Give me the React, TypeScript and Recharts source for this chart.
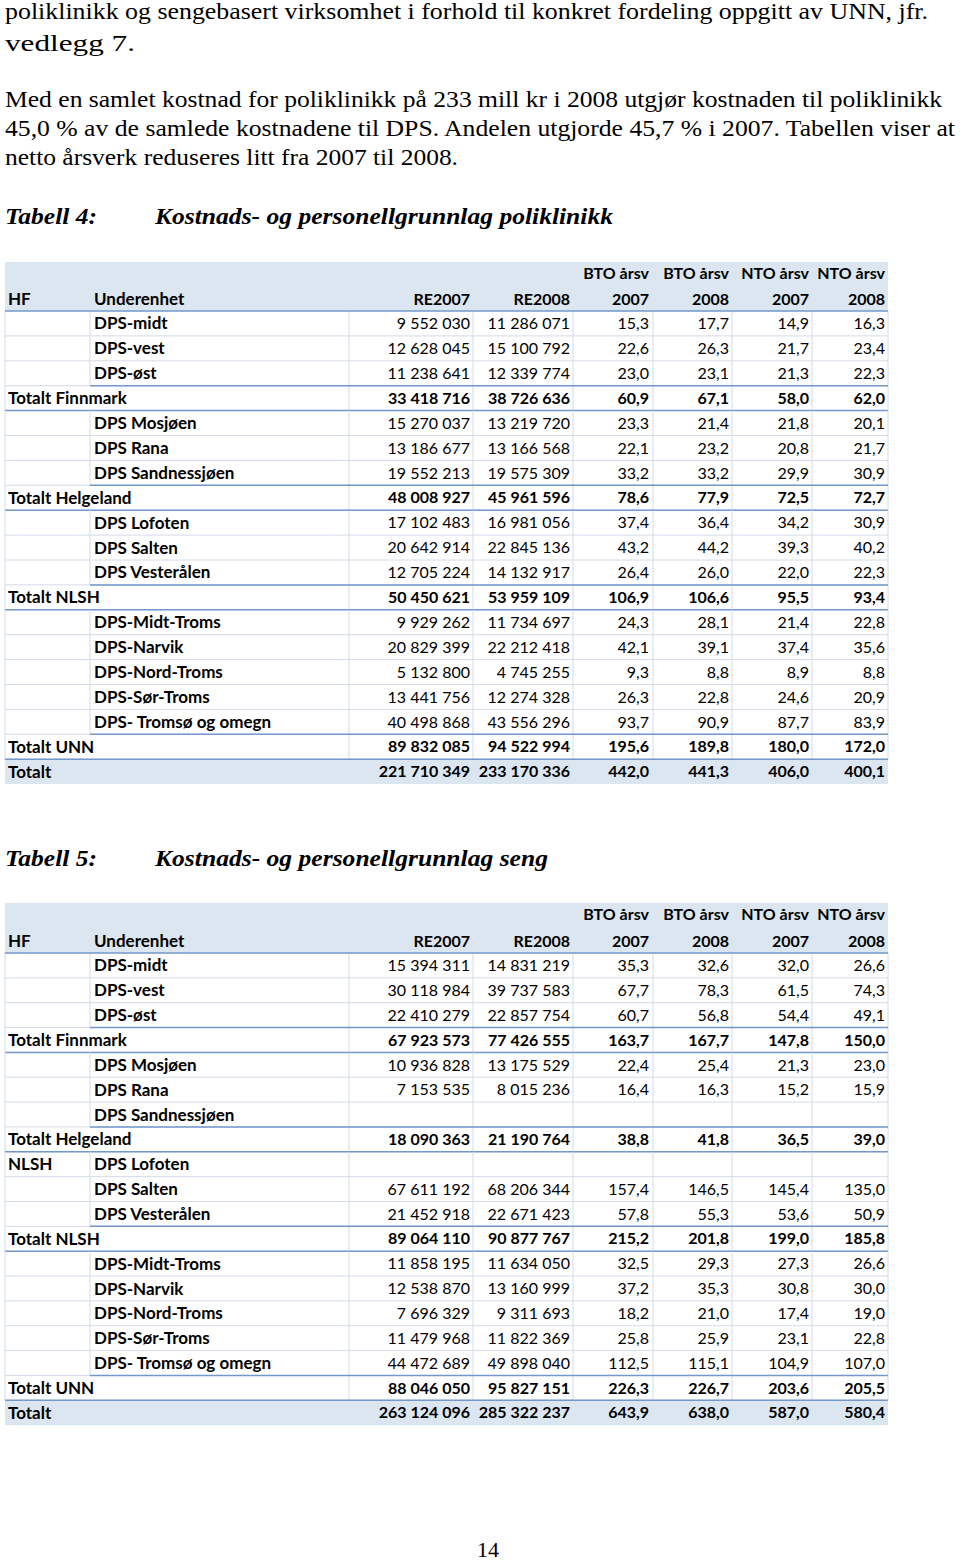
import React from "react";
import { Surface, Layer, Rectangle, Text } from "recharts";

// page text
const paragraphLines = [
  "poliklinikk og sengebasert virksomhet i forhold til konkret fordeling oppgitt av UNN, jfr.",
  "vedlegg 7.",
  "Med en samlet kostnad for poliklinikk på 233 mill kr i 2008 utgjør kostnaden til poliklinikk",
  "45,0 % av de samlede kostnadene til DPS. Andelen utgjorde 45,7 % i 2007. Tabellen viser at",
  "netto årsverk reduseres litt fra 2007 til 2008.",
];
const headerTop = ["", "", "", "", "BTO årsv", "BTO årsv", "NTO årsv", "NTO årsv"];
const headerBottom = ["HF", "Underenhet", "RE2007", "RE2008", "2007", "2008", "2007", "2008"];

// Tabell 4 - poliklinikk
const units4 = [
  "DPS-midt", "DPS-vest", "DPS-øst", "Totalt Finnmark",
  "DPS Mosjøen", "DPS Rana", "DPS Sandnessjøen", "Totalt Helgeland",
  "DPS Lofoten", "DPS Salten", "DPS Vesterålen", "Totalt NLSH",
  "DPS-Midt-Troms", "DPS-Narvik", "DPS-Nord-Troms", "DPS-Sør-Troms", "DPS- Tromsø og omegn",
  "Totalt UNN", "Totalt",
];
const hf4 = ["", "", "", "", "", "", "", "", "", "", "", "", "", "", "", "", "", "", ""];
const re2007_4 = [9552030, 12628045, 11238641, 33418716, 15270037, 13186677, 19552213, 48008927, 17102483, 20642914, 12705224, 50450621, 9929262, 20829399, 5132800, 13441756, 40498868, 89832085, 221710349];
const re2008_4 = [11286071, 15100792, 12339774, 38726636, 13219720, 13166568, 19575309, 45961596, 16981056, 22845136, 14132917, 53959109, 11734697, 22212418, 4745255, 12274328, 43556296, 94522994, 233170336];
const bto2007_4 = [15.3, 22.6, 23.0, 60.9, 23.3, 22.1, 33.2, 78.6, 37.4, 43.2, 26.4, 106.9, 24.3, 42.1, 9.3, 26.3, 93.7, 195.6, 442.0];
const bto2008_4 = [17.7, 26.3, 23.1, 67.1, 21.4, 23.2, 33.2, 77.9, 36.4, 44.2, 26.0, 106.6, 28.1, 39.1, 8.8, 22.8, 90.9, 189.8, 441.3];
const nto2007_4 = [14.9, 21.7, 21.3, 58.0, 21.8, 20.8, 29.9, 72.5, 34.2, 39.3, 22.0, 95.5, 21.4, 37.4, 8.9, 24.6, 87.7, 180.0, 406.0];
const nto2008_4 = [16.3, 23.4, 22.3, 62.0, 20.1, 21.7, 30.9, 72.7, 30.9, 40.2, 22.3, 93.4, 22.8, 35.6, 8.8, 20.9, 83.9, 172.0, 400.1];

// Tabell 5 - seng
const units5 = units4;
const hf5 = ["", "", "", "", "", "", "", "", "NLSH", "", "", "", "", "", "", "", "", "", ""];
const re2007_5 = [15394311, 30118984, 22410279, 67923573, 10936828, 7153535, null, 18090363, null, 67611192, 21452918, 89064110, 11858195, 12538870, 7696329, 11479968, 44472689, 88046050, 263124096];
const re2008_5 = [14831219, 39737583, 22857754, 77426555, 13175529, 8015236, null, 21190764, null, 68206344, 22671423, 90877767, 11634050, 13160999, 9311693, 11822369, 49898040, 95827151, 285322237];
const bto2007_5 = [35.3, 67.7, 60.7, 163.7, 22.4, 16.4, null, 38.8, null, 157.4, 57.8, 215.2, 32.5, 37.2, 18.2, 25.8, 112.5, 226.3, 643.9];
const bto2008_5 = [32.6, 78.3, 56.8, 167.7, 25.4, 16.3, null, 41.8, null, 146.5, 55.3, 201.8, 29.3, 35.3, 21.0, 25.9, 115.1, 226.7, 638.0];
const nto2007_5 = [32.0, 61.5, 54.4, 147.8, 21.3, 15.2, null, 36.5, null, 145.4, 53.6, 199.0, 27.3, 30.8, 17.4, 23.1, 104.9, 203.6, 587.0];
const nto2008_5 = [26.6, 74.3, 49.1, 150.0, 23.0, 15.9, null, 39.0, null, 135.0, 50.9, 185.8, 26.6, 30.0, 19.0, 22.8, 107.0, 205.5, 580.4];

const serif = "Liberation Serif";
const sans = "Lato";
const colX = [5, 90, 349, 473, 573, 653, 732, 812, 888];
const textRight = [470, 570, 649, 729, 809, 885];
const headBg = "#dce6f1";
const lightLine = "#d3dbe8";
const darkLine = "#7398c9";

const fmtInt = (v: number | null) =>
  v == null ? "" : Math.round(v).toString().replace(/\B(?=(\d{3})+(?!\d))/g, " ");
const fmtDec = (v: number | null) => (v == null ? "" : v.toFixed(1).replace(".", ","));

type TableProps = {
  top: number;
  bottom: number;
  rowH: number;
  units: string[];
  hf: string[];
  cols: (number | null)[][];
};

function Table({ top, bottom, rowH, units, hf, cols }: TableProps) {
  const left = colX[0];
  const right = colX[colX.length - 1];
  const n = units.length;
  const kind = (u: string) => (u === "Totalt" ? "grand" : u.startsWith("Totalt") ? "total" : "unit");
  const lines: React.ReactNode[] = [];
  const cells: React.ReactNode[] = [];

  units.forEach((u, i) => {
    const y0 = bottom + i * rowH;
    const y1 = y0 + rowH;
    const k = kind(u);
    if (k !== "grand") {
      colX.forEach((x, ci) => {
        if (ci === 1 && k !== "unit") return;
        lines.push(<line key={`v${i}-${ci}`} x1={x} x2={x} y1={y0} y2={y1} stroke={lightLine} strokeWidth={1} />);
      });
      lines.push(<line key={`h${i}`} x1={left} x2={right} y1={y1} y2={y1} stroke={lightLine} strokeWidth={1} />);
    }
    if (k !== "unit") {
      lines.push(<line key={`da${i}`} x1={k === "grand" ? left : colX[1]} x2={right} y1={y0} y2={y0} stroke={darkLine} strokeWidth={1.5} />);
      if (k === "total" && i < n - 2) {
        lines.push(<line key={`db${i}`} x1={left} x2={right} y1={y1} y2={y1} stroke={darkLine} strokeWidth={1.5} />);
      }
    }
    const cy = y0 + rowH / 2;
    const bold = k !== "unit";
    if (k === "unit") {
      if (hf[i]) {
        cells.push(<Text key={`hf${i}`} x={8} y={cy} verticalAnchor="middle" fontFamily={sans} fontSize={17} fontWeight={700} fill="#000">{hf[i]}</Text>);
      }
      cells.push(<Text key={`u${i}`} x={94} y={cy} verticalAnchor="middle" fontFamily={sans} fontSize={17} fontWeight={700} fill="#000">{u}</Text>);
    } else {
      cells.push(<Text key={`u${i}`} x={8} y={cy} verticalAnchor="middle" fontFamily={sans} fontSize={17} fontWeight={700} fill="#000">{u}</Text>);
    }
    cols.forEach((c, ci) => {
      const s = ci < 2 ? fmtInt(c[i]) : fmtDec(c[i]);
      if (!s) return;
      cells.push(
        <Text key={`c${i}-${ci}`} x={textRight[ci]} y={cy} textAnchor="end" verticalAnchor="middle" fontFamily={sans} fontSize={16} fontWeight={bold ? 700 : 400} fill="#000">
          {s}
        </Text>
      );
    });
  });

  const h1 = top + (bottom - top) * 0.23;
  const h2 = top + (bottom - top) * 0.76;
  const grandY = bottom + (n - 1) * rowH;

  return (
    <Layer>
      <Rectangle x={left} y={top} width={right - left} height={bottom - top} fill={headBg} />
      <Rectangle x={left} y={grandY} width={right - left} height={rowH} fill={headBg} />
      {lines}
      <line x1={left} x2={right} y1={bottom} y2={bottom} stroke={darkLine} strokeWidth={1.5} />
      {headerTop.map((t, ci) =>
        t ? (
          <Text key={`ht${ci}`} x={textRight[ci - 2]} y={h1} textAnchor="end" verticalAnchor="middle" fontFamily={sans} fontSize={16} fontWeight={700} fill="#000">{t}</Text>
        ) : null
      )}
      {headerBottom.map((t, ci) => (
        <Text
          key={`hb${ci}`}
          x={ci === 0 ? 8 : ci === 1 ? 94 : textRight[ci - 2]}
          y={h2}
          textAnchor={ci < 2 ? "start" : "end"}
          verticalAnchor="middle"
          fontFamily={sans}
          fontSize={ci < 2 ? 17 : 16}
          fontWeight={700}
          fill="#000"
        >
          {t}
        </Text>
      ))}
      {cells}
    </Layer>
  );
}

const lineY = [19, 51, 107, 136, 165];
const lineW = [923, 130, 937, 950, 453];

export default function App() {
  return (
    <div style={{ position: "absolute", left: 0, top: 0, width: 960, height: 1562, background: "#fff" }}>
      <Surface width={960} height={1562} viewBox={{ x: 0, y: 0, width: 960, height: 1562 }}>
        {paragraphLines.map((t, i) => (
          <text key={i} x={5} y={lineY[i]} fontFamily={serif} fontSize={23} textLength={lineW[i]} lengthAdjust="spacingAndGlyphs" fill="#000">
            {t}
          </text>
        ))}
        <text x={5} y={224} fontFamily={serif} fontSize={24} fontStyle="italic" fontWeight={700} textLength={92} lengthAdjust="spacingAndGlyphs">Tabell 4:</text>
        <text x={155} y={224} fontFamily={serif} fontSize={24} fontStyle="italic" fontWeight={700} textLength={458} lengthAdjust="spacingAndGlyphs">Kostnads- og personellgrunnlag poliklinikk</text>
        <Table
          top={262}
          bottom={311}
          rowH={24.9}
          units={units4}
          hf={hf4}
          cols={[re2007_4, re2008_4, bto2007_4, bto2008_4, nto2007_4, nto2008_4]}
        />
        <text x={5} y={866} fontFamily={serif} fontSize={24} fontStyle="italic" fontWeight={700} textLength={92} lengthAdjust="spacingAndGlyphs">Tabell 5:</text>
        <text x={155} y={866} fontFamily={serif} fontSize={24} fontStyle="italic" fontWeight={700} textLength={393} lengthAdjust="spacingAndGlyphs">Kostnads- og personellgrunnlag seng</text>
        <Table
          top={903}
          bottom={953}
          rowH={24.85}
          units={units5}
          hf={hf5}
          cols={[re2007_5, re2008_5, bto2007_5, bto2008_5, nto2007_5, nto2008_5]}
        />
        <text x={488} y={1557} textAnchor="middle" fontFamily={serif} fontSize={22} fill="#000">14</text>
      </Surface>
    </div>
  );
}
